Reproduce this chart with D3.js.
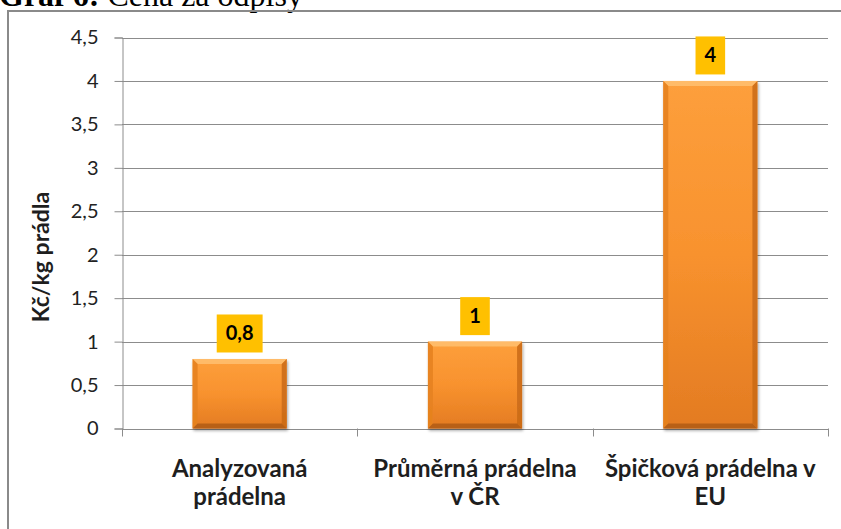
<!DOCTYPE html>
<html>
<head>
<meta charset="utf-8">
<title>Graf 6 - Cena za odpisy</title>
<script src="https://d3js.org/d3.v7.min.js"></script>
<style>
  body { margin: 0; background: #fff; overflow: hidden; }
  svg { display: block; }
</style>
</head>
<body>
<script>

    // data
    var categories = ["Analyzovaná prádelna", "Průměrná prádelna v ČR", "Špičková prádelna v EU"];
    var categoryLines = [["Analyzovaná", "prádelna"], ["Průměrná prádelna", "v ČR"], ["Špičková prádelna v", "EU"]];
    var values = [0.8, 1, 4];
    var yTicks = [0, 0.5, 1, 1.5, 2, 2.5, 3, 3.5, 4, 4.5];
    var yTitle = "Kč/kg prádla";
    var titleBold = "Graf 6:";
    var titleRest = " Cena za odpisy";

    var width = 841;
    var height = 529;
    var font = "Lato, 'Noto Sans', sans-serif";

    var csLocale = d3.formatLocale({decimal: ",", thousands: " ", grouping: [3], currency: ["", " Kč"]});
    var fmt = csLocale.format("~g");

    var svg = d3.select('body')
                .append('svg')
                .attr('width', width)
                .attr('height', height);

    // gradients for the bevelled bars
    var defs = svg.append('defs');
    var grad = defs.append('linearGradient')
        .attr('id', 'barFill')
        .attr('x1', 0).attr('y1', 0).attr('x2', 0).attr('y2', 1);
    grad.append('stop').attr('offset', '0%').attr('stop-color', '#fd9f3c');
    grad.append('stop').attr('offset', '50%').attr('stop-color', '#f8922e');
    grad.append('stop').attr('offset', '100%').attr('stop-color', '#e37b22');

    var shadow = defs.append('filter').attr('id', 'shadow')
        .attr('x', '-10%').attr('y', '-10%').attr('width', '130%').attr('height', '130%');
    shadow.append('feGaussianBlur').attr('in', 'SourceAlpha').attr('stdDeviation', 1.5);
    shadow.append('feOffset').attr('dx', 1).attr('dy', 1.5).attr('result', 'off');
    shadow.append('feComponentTransfer').append('feFuncA').attr('type', 'linear').attr('slope', 0.35);
    var merge = shadow.append('feMerge');
    merge.append('feMergeNode');
    merge.append('feMergeNode').attr('in', 'SourceGraphic');

    // title (cut off at the top like in the scan)
    var title = svg.append('text')
        .attr('x', -1)
        .attr('y', 6)
        .style('font-family', "'Liberation Serif', 'Times New Roman', serif")
        .style('font-size', '32px')
        .attr('fill', '#000');
    title.append('tspan').style('font-weight', 'bold').text(titleBold);
    title.append('tspan').text(titleRest);

    // chart frame
    svg.append('rect')
        .attr('x', 8).attr('y', 11)
        .attr('width', 860).attr('height', 560)
        .attr('fill', 'none')
        .attr('stroke', '#8a8a8a')
        .attr('stroke-width', 2);

    var x = d3.scaleBand()
        .domain(categories)
        .range([122, 828])
        .paddingInner(0.6)
        .paddingOuter(0.3);

    var y = d3.scaleLinear()
        .domain([0, 4.5])
        .range([428.5, 37.5]);

    // gridlines
    svg.append('g')
        .selectAll('line')
        .data(yTicks.filter(function(d) { return d > 0; }))
        .enter()
        .append('line')
        .attr('x1', 122).attr('x2', 828)
        .attr('y1', function(d) { return Math.round(y(d)) + 0.5; })
        .attr('y2', function(d) { return Math.round(y(d)) + 0.5; })
        .attr('stroke', '#8c8c8c')
        .attr('stroke-width', 1);

    // y axis
    var yAxis = svg.append('g')
        .attr('transform', 'translate(122.5,0)')
        .call(d3.axisLeft(y).tickValues(yTicks).tickSize(8).tickPadding(16).tickFormat(fmt));
    yAxis.select('.domain').attr('stroke', '#8c8c8c');
    yAxis.selectAll('.tick line').attr('stroke', '#8c8c8c');
    yAxis.selectAll('.tick text')
        .style('font-family', font)
        .style('font-size', '20px')
        .attr('fill', '#222');

    // x axis with boundary ticks
    var xAxisG = svg.append('g');
    xAxisG.append('line')
        .attr('x1', 122).attr('x2', 828)
        .attr('y1', Math.round(y(0)) + 0.5).attr('y2', Math.round(y(0)) + 0.5)
        .attr('stroke', '#8c8c8c');
    var bounds = categories.map(function(c) { return x(c) - x.step() * x.paddingInner() / 2; });
    bounds.push(828);
    xAxisG.selectAll('line.tk')
        .data(bounds)
        .enter()
        .append('line')
        .attr('class', 'tk')
        .attr('x1', function(d) { return Math.round(d) + 0.5; })
        .attr('x2', function(d) { return Math.round(d) + 0.5; })
        .attr('y1', y(0)).attr('y2', y(0) + 8)
        .attr('stroke', '#8c8c8c');

    // category labels
    svg.append('g')
        .selectAll('text')
        .data(categories)
        .enter()
        .append('text')
        .attr('x', function(d) { return x(d) + x.bandwidth() / 2; })
        .attr('y', 477)
        .attr('text-anchor', 'middle')
        .style('font-family', font)
        .style('font-weight', 'bold')
        .style('font-size', '24px')
        .attr('fill', '#1e1e1e')
        .each(function(d, i) {
            var t = d3.select(this);
            categoryLines[i].forEach(function(line, j) {
                t.append('tspan')
                    .attr('x', x(d) + x.bandwidth() / 2)
                    .attr('dy', j === 0 ? 0 : 28)
                    .text(line);
            });
        });

    // y axis title
    svg.append('text')
        .attr('transform', 'translate(49,257) rotate(-90)')
        .attr('text-anchor', 'middle')
        .style('font-family', font)
        .style('font-weight', 'bold')
        .style('font-size', '23px')
        .attr('fill', '#1e1e1e')
        .text(yTitle);

    // bars
    var bevel = 5;
    var bars = svg.append('g')
        .selectAll('g')
        .data(values)
        .enter()
        .append('g')
        .attr('filter', 'url(#shadow)')
        .attr('transform', function(d, i) { return 'translate(' + x(categories[i]) + ',' + y(d) + ')'; });

    bars.append('rect')
        .attr('width', x.bandwidth())
        .attr('height', function(d) { return y(0) - y(d); })
        .attr('fill', 'url(#barFill)');

    // bevel edges
    bars.each(function(d) {
        var g = d3.select(this);
        var w = x.bandwidth();
        var h = y(0) - y(d);
        var b = bevel;
        g.append('polygon')
            .attr('points', [[0, 0], [w, 0], [w - b, b], [b, b]].join(' '))
            .attr('fill', '#ffbe6e').attr('opacity', 0.9);
        g.append('polygon')
            .attr('points', [[0, 0], [b, b], [b, h - b], [0, h]].join(' '))
            .attr('fill', '#e5821f').attr('opacity', 0.9);
        g.append('polygon')
            .attr('points', [[w, 0], [w, h], [w - b, h - b], [w - b, b]].join(' '))
            .attr('fill', '#c96a18').attr('opacity', 0.85);
        g.append('polygon')
            .attr('points', [[0, h], [b, h - b], [w - b, h - b], [w, h]].join(' '))
            .attr('fill', '#b35d16').attr('opacity', 0.9);
    });

    // data labels with yellow boxes
    var labels = svg.append('g')
        .selectAll('g')
        .data(values)
        .enter()
        .append('g');

    labels.append('rect').attr('fill', '#ffc000');
    labels.append('text')
        .attr('x', function(d, i) { return x(categories[i]) + x.bandwidth() / 2; })
        .attr('y', function(d) { return y(d) - 6.5 - 12; })
        .attr('text-anchor', 'middle')
        .style('font-family', font)
        .style('font-weight', 'bold')
        .style('font-size', '20px')
        .attr('fill', '#000')
        .text(function(d) { return fmt(d); });

    labels.each(function(d, i) {
        var g = d3.select(this);
        var tw = g.select('text').node().getComputedTextLength();
        var cx = x(categories[i]) + x.bandwidth() / 2;
        g.select('rect')
            .attr('x', cx - tw / 2 - 9)
            .attr('y', y(d) - 6.5 - 38)
            .attr('width', tw + 18)
            .attr('height', 38);
    });

</script>
</body>
</html>
